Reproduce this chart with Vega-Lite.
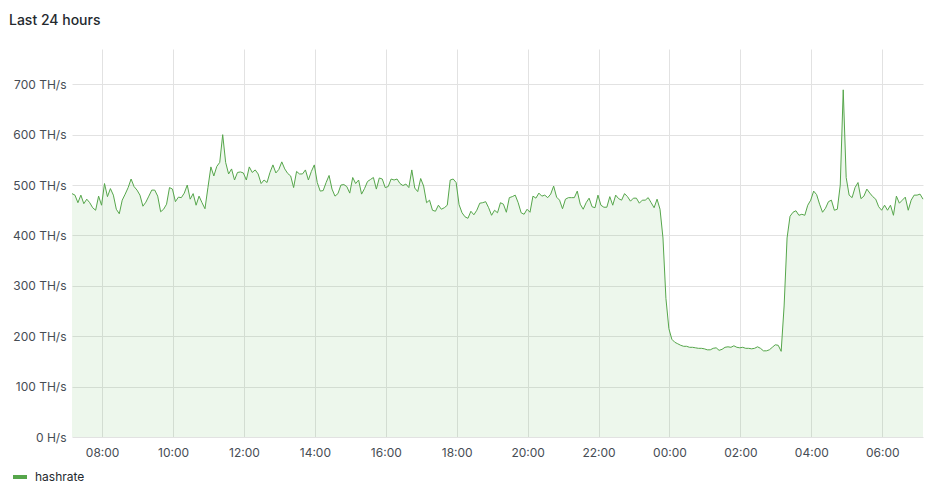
{
  "$schema": "https://vega.github.io/schema/vega-lite/v6.json",
  "width": 851,
  "height": 388,
  "autosize": {"type": "none"},
  "padding": {"left": 72, "top": 49, "right": 17, "bottom": 63},
  "background": "#ffffff",
  "title": {
    "text": "Last 24 hours",
    "anchor": "start",
    "frame": "group",
    "font": "Inter",
    "fontSize": 14,
    "fontWeight": 500,
    "color": "#24292e",
    "baseline": "alphabetic",
    "offset": 27,
    "dx": -63,
    "dy": 17
  },
  "config": {
    "view": {"stroke": null},
    "font": "Inter",
    "axis": {
      "labelFont": "Inter",
      "labelFontSize": 12,
      "labelColor": "#464c54",
      "gridColor": "#e2e2e2",
      "gridWidth": 1,
      "domain": false,
      "ticks": false,
      "title": null
    }
  },
  "data": {
    "values": [
      {"t":"2024-01-01T07:09","v":483},{"t":"2024-01-01T07:14","v":480},{"t":"2024-01-01T07:19","v":465},{"t":"2024-01-01T07:24","v":480},{"t":"2024-01-01T07:29","v":463},{"t":"2024-01-01T07:34","v":472},{"t":"2024-01-01T07:39","v":465},{"t":"2024-01-01T07:44","v":455},{"t":"2024-01-01T07:49","v":450},{"t":"2024-01-01T07:54","v":478},{"t":"2024-01-01T07:59","v":460},
      {"t":"2024-01-01T08:04","v":503},{"t":"2024-01-01T08:09","v":477},{"t":"2024-01-01T08:14","v":493},{"t":"2024-01-01T08:19","v":480},{"t":"2024-01-01T08:24","v":452},{"t":"2024-01-01T08:29","v":443},{"t":"2024-01-01T08:34","v":470},{"t":"2024-01-01T08:39","v":482},{"t":"2024-01-01T08:44","v":495},{"t":"2024-01-01T08:49","v":512},{"t":"2024-01-01T08:54","v":497},{"t":"2024-01-01T08:59","v":490},
      {"t":"2024-01-01T09:04","v":480},{"t":"2024-01-01T09:09","v":458},{"t":"2024-01-01T09:14","v":466},{"t":"2024-01-01T09:19","v":478},{"t":"2024-01-01T09:24","v":490},{"t":"2024-01-01T09:29","v":490},{"t":"2024-01-01T09:34","v":478},{"t":"2024-01-01T09:39","v":447},{"t":"2024-01-01T09:44","v":452},{"t":"2024-01-01T09:49","v":462},{"t":"2024-01-01T09:54","v":495},{"t":"2024-01-01T09:59","v":492},
      {"t":"2024-01-01T10:04","v":467},{"t":"2024-01-01T10:09","v":476},{"t":"2024-01-01T10:14","v":475},{"t":"2024-01-01T10:19","v":484},{"t":"2024-01-01T10:24","v":500},{"t":"2024-01-01T10:29","v":472},{"t":"2024-01-01T10:34","v":483},{"t":"2024-01-01T10:39","v":460},{"t":"2024-01-01T10:44","v":478},{"t":"2024-01-01T10:49","v":465},{"t":"2024-01-01T10:54","v":453},{"t":"2024-01-01T10:59","v":495},
      {"t":"2024-01-01T11:04","v":536},{"t":"2024-01-01T11:09","v":518},{"t":"2024-01-01T11:14","v":537},{"t":"2024-01-01T11:19","v":545},{"t":"2024-01-01T11:24","v":600},{"t":"2024-01-01T11:29","v":545},{"t":"2024-01-01T11:34","v":522},{"t":"2024-01-01T11:39","v":532},{"t":"2024-01-01T11:44","v":510},{"t":"2024-01-01T11:49","v":525},{"t":"2024-01-01T11:54","v":526},{"t":"2024-01-01T11:59","v":524},
      {"t":"2024-01-01T12:04","v":510},{"t":"2024-01-01T12:09","v":536},{"t":"2024-01-01T12:14","v":525},{"t":"2024-01-01T12:19","v":530},{"t":"2024-01-01T12:24","v":522},{"t":"2024-01-01T12:29","v":503},{"t":"2024-01-01T12:34","v":510},{"t":"2024-01-01T12:39","v":505},{"t":"2024-01-01T12:44","v":525},{"t":"2024-01-01T12:49","v":540},{"t":"2024-01-01T12:54","v":524},{"t":"2024-01-01T12:59","v":531},
      {"t":"2024-01-01T13:04","v":546},{"t":"2024-01-01T13:09","v":532},{"t":"2024-01-01T13:14","v":523},{"t":"2024-01-01T13:19","v":518},{"t":"2024-01-01T13:24","v":495},{"t":"2024-01-01T13:29","v":527},{"t":"2024-01-01T13:34","v":522},{"t":"2024-01-01T13:39","v":522},{"t":"2024-01-01T13:44","v":530},{"t":"2024-01-01T13:49","v":510},{"t":"2024-01-01T13:54","v":527},{"t":"2024-01-01T13:59","v":540},
      {"t":"2024-01-01T14:04","v":505},{"t":"2024-01-01T14:09","v":488},{"t":"2024-01-01T14:14","v":489},{"t":"2024-01-01T14:19","v":505},{"t":"2024-01-01T14:24","v":519},{"t":"2024-01-01T14:29","v":492},{"t":"2024-01-01T14:34","v":478},{"t":"2024-01-01T14:39","v":483},{"t":"2024-01-01T14:44","v":500},{"t":"2024-01-01T14:49","v":501},{"t":"2024-01-01T14:54","v":497},{"t":"2024-01-01T14:59","v":484},
      {"t":"2024-01-01T15:04","v":515},{"t":"2024-01-01T15:09","v":503},{"t":"2024-01-01T15:14","v":510},{"t":"2024-01-01T15:19","v":482},{"t":"2024-01-01T15:24","v":493},{"t":"2024-01-01T15:29","v":507},{"t":"2024-01-01T15:34","v":511},{"t":"2024-01-01T15:39","v":515},{"t":"2024-01-01T15:44","v":492},{"t":"2024-01-01T15:49","v":514},{"t":"2024-01-01T15:54","v":512},{"t":"2024-01-01T15:59","v":495},
      {"t":"2024-01-01T16:04","v":497},{"t":"2024-01-01T16:09","v":512},{"t":"2024-01-01T16:14","v":510},{"t":"2024-01-01T16:19","v":512},{"t":"2024-01-01T16:24","v":503},{"t":"2024-01-01T16:29","v":499},{"t":"2024-01-01T16:34","v":502},{"t":"2024-01-01T16:39","v":495},{"t":"2024-01-01T16:44","v":530},{"t":"2024-01-01T16:49","v":494},{"t":"2024-01-01T16:54","v":487},{"t":"2024-01-01T16:59","v":513},
      {"t":"2024-01-01T17:04","v":498},{"t":"2024-01-01T17:09","v":465},{"t":"2024-01-01T17:14","v":470},{"t":"2024-01-01T17:19","v":450},{"t":"2024-01-01T17:24","v":448},{"t":"2024-01-01T17:29","v":460},{"t":"2024-01-01T17:34","v":452},{"t":"2024-01-01T17:39","v":455},{"t":"2024-01-01T17:44","v":460},{"t":"2024-01-01T17:49","v":510},{"t":"2024-01-01T17:54","v":512},{"t":"2024-01-01T17:59","v":505},
      {"t":"2024-01-01T18:04","v":461},{"t":"2024-01-01T18:09","v":445},{"t":"2024-01-01T18:14","v":437},{"t":"2024-01-01T18:19","v":434},{"t":"2024-01-01T18:24","v":448},{"t":"2024-01-01T18:29","v":441},{"t":"2024-01-01T18:34","v":450},{"t":"2024-01-01T18:39","v":464},{"t":"2024-01-01T18:44","v":465},{"t":"2024-01-01T18:49","v":467},{"t":"2024-01-01T18:54","v":455},{"t":"2024-01-01T18:59","v":440},
      {"t":"2024-01-01T19:04","v":450},{"t":"2024-01-01T19:09","v":445},{"t":"2024-01-01T19:14","v":465},{"t":"2024-01-01T19:19","v":462},{"t":"2024-01-01T19:24","v":446},{"t":"2024-01-01T19:29","v":475},{"t":"2024-01-01T19:34","v":477},{"t":"2024-01-01T19:39","v":480},{"t":"2024-01-01T19:44","v":465},{"t":"2024-01-01T19:49","v":445},{"t":"2024-01-01T19:54","v":442},{"t":"2024-01-01T19:59","v":452},
      {"t":"2024-01-01T20:04","v":446},{"t":"2024-01-01T20:09","v":478},{"t":"2024-01-01T20:14","v":474},{"t":"2024-01-01T20:19","v":484},{"t":"2024-01-01T20:24","v":478},{"t":"2024-01-01T20:29","v":480},{"t":"2024-01-01T20:34","v":475},{"t":"2024-01-01T20:39","v":482},{"t":"2024-01-01T20:44","v":498},{"t":"2024-01-01T20:49","v":476},{"t":"2024-01-01T20:54","v":470},{"t":"2024-01-01T20:59","v":453},
      {"t":"2024-01-01T21:04","v":472},{"t":"2024-01-01T21:09","v":475},{"t":"2024-01-01T21:14","v":475},{"t":"2024-01-01T21:19","v":475},{"t":"2024-01-01T21:24","v":488},{"t":"2024-01-01T21:29","v":462},{"t":"2024-01-01T21:34","v":452},{"t":"2024-01-01T21:39","v":465},{"t":"2024-01-01T21:44","v":474},{"t":"2024-01-01T21:49","v":457},{"t":"2024-01-01T21:54","v":455},{"t":"2024-01-01T21:59","v":480},
      {"t":"2024-01-01T22:04","v":460},{"t":"2024-01-01T22:09","v":456},{"t":"2024-01-01T22:14","v":456},{"t":"2024-01-01T22:19","v":477},{"t":"2024-01-01T22:24","v":460},{"t":"2024-01-01T22:29","v":480},{"t":"2024-01-01T22:34","v":473},{"t":"2024-01-01T22:39","v":470},{"t":"2024-01-01T22:44","v":483},{"t":"2024-01-01T22:49","v":477},{"t":"2024-01-01T22:54","v":468},{"t":"2024-01-01T22:59","v":474},
      {"t":"2024-01-01T23:04","v":474},{"t":"2024-01-01T23:09","v":464},{"t":"2024-01-01T23:14","v":470},{"t":"2024-01-01T23:19","v":470},{"t":"2024-01-01T23:24","v":475},{"t":"2024-01-01T23:29","v":465},{"t":"2024-01-01T23:34","v":455},{"t":"2024-01-01T23:39","v":472},{"t":"2024-01-01T23:44","v":452},{"t":"2024-01-01T23:49","v":395},{"t":"2024-01-01T23:54","v":275},{"t":"2024-01-01T23:59","v":215},
      {"t":"2024-01-02T00:04","v":194},{"t":"2024-01-02T00:09","v":188},{"t":"2024-01-02T00:14","v":185},{"t":"2024-01-02T00:19","v":182},{"t":"2024-01-02T00:24","v":180},{"t":"2024-01-02T00:29","v":180},{"t":"2024-01-02T00:34","v":178},{"t":"2024-01-02T00:39","v":178},{"t":"2024-01-02T00:44","v":177},{"t":"2024-01-02T00:49","v":176},{"t":"2024-01-02T00:54","v":176},{"t":"2024-01-02T00:59","v":175},
      {"t":"2024-01-02T01:04","v":173},{"t":"2024-01-02T01:09","v":173},{"t":"2024-01-02T01:14","v":176},{"t":"2024-01-02T01:19","v":177},{"t":"2024-01-02T01:24","v":172},{"t":"2024-01-02T01:29","v":174},{"t":"2024-01-02T01:34","v":178},{"t":"2024-01-02T01:39","v":179},{"t":"2024-01-02T01:44","v":178},{"t":"2024-01-02T01:49","v":181},{"t":"2024-01-02T01:54","v":178},{"t":"2024-01-02T01:59","v":177},
      {"t":"2024-01-02T02:04","v":178},{"t":"2024-01-02T02:09","v":176},{"t":"2024-01-02T02:14","v":176},{"t":"2024-01-02T02:19","v":175},{"t":"2024-01-02T02:24","v":176},{"t":"2024-01-02T02:29","v":179},{"t":"2024-01-02T02:34","v":176},{"t":"2024-01-02T02:39","v":171},{"t":"2024-01-02T02:44","v":171},{"t":"2024-01-02T02:49","v":173},{"t":"2024-01-02T02:54","v":178},{"t":"2024-01-02T02:59","v":183},
      {"t":"2024-01-02T03:04","v":182},{"t":"2024-01-02T03:09","v":170},{"t":"2024-01-02T03:14","v":260},{"t":"2024-01-02T03:19","v":395},{"t":"2024-01-02T03:24","v":438},{"t":"2024-01-02T03:29","v":446},{"t":"2024-01-02T03:34","v":449},{"t":"2024-01-02T03:39","v":440},{"t":"2024-01-02T03:44","v":442},{"t":"2024-01-02T03:49","v":440},{"t":"2024-01-02T03:54","v":460},{"t":"2024-01-02T03:59","v":470},
      {"t":"2024-01-02T04:04","v":488},{"t":"2024-01-02T04:09","v":481},{"t":"2024-01-02T04:14","v":462},{"t":"2024-01-02T04:19","v":446},{"t":"2024-01-02T04:24","v":454},{"t":"2024-01-02T04:29","v":467},{"t":"2024-01-02T04:34","v":470},{"t":"2024-01-02T04:39","v":450},{"t":"2024-01-02T04:44","v":452},{"t":"2024-01-02T04:49","v":500},{"t":"2024-01-02T04:54","v":689},{"t":"2024-01-02T04:59","v":515},
      {"t":"2024-01-02T05:04","v":480},{"t":"2024-01-02T05:09","v":475},{"t":"2024-01-02T05:14","v":495},{"t":"2024-01-02T05:19","v":505},{"t":"2024-01-02T05:24","v":473},{"t":"2024-01-02T05:29","v":478},{"t":"2024-01-02T05:34","v":492},{"t":"2024-01-02T05:39","v":484},{"t":"2024-01-02T05:44","v":477},{"t":"2024-01-02T05:49","v":472},{"t":"2024-01-02T05:54","v":457},{"t":"2024-01-02T05:59","v":450},
      {"t":"2024-01-02T06:04","v":460},{"t":"2024-01-02T06:09","v":450},{"t":"2024-01-02T06:14","v":460},{"t":"2024-01-02T06:19","v":440},{"t":"2024-01-02T06:24","v":478},{"t":"2024-01-02T06:29","v":464},{"t":"2024-01-02T06:34","v":470},{"t":"2024-01-02T06:39","v":476},{"t":"2024-01-02T06:44","v":450},{"t":"2024-01-02T06:49","v":470},{"t":"2024-01-02T06:54","v":480},{"t":"2024-01-02T06:59","v":480},
      {"t":"2024-01-02T07:04","v":482},{"t":"2024-01-02T07:09","v":472}
    ]
  },
  "encoding": {
    "x": {
      "field": "t",
      "type": "temporal",
      "scale": {"domain": [
        {"year": 2024, "month": 1, "date": 1, "hours": 7, "minutes": 9},
        {"year": 2024, "month": 1, "date": 2, "hours": 7, "minutes": 9}
      ]},
      "axis": {
        "format": "%H:%M",
        "values": [
          {"year": 2024, "month": 1, "date": 1, "hours": 8},
          {"year": 2024, "month": 1, "date": 1, "hours": 10},
          {"year": 2024, "month": 1, "date": 1, "hours": 12},
          {"year": 2024, "month": 1, "date": 1, "hours": 14},
          {"year": 2024, "month": 1, "date": 1, "hours": 16},
          {"year": 2024, "month": 1, "date": 1, "hours": 18},
          {"year": 2024, "month": 1, "date": 1, "hours": 20},
          {"year": 2024, "month": 1, "date": 1, "hours": 22},
          {"year": 2024, "month": 1, "date": 2, "hours": 0},
          {"year": 2024, "month": 1, "date": 2, "hours": 2},
          {"year": 2024, "month": 1, "date": 2, "hours": 4},
          {"year": 2024, "month": 1, "date": 2, "hours": 6}
        ],
        "labelFlush": false,
        "labelPadding": 10,
        "grid": true
      }
    },
    "y": {
      "field": "v",
      "type": "quantitative",
      "scale": {"domain": [0, 770], "nice": false},
      "axis": {
        "values": [0, 100, 200, 300, 400, 500, 600, 700],
        "labelExpr": "datum.value == 0 ? '0 H/s' : datum.value + ' TH/s'",
        "labelPadding": 6,
        "grid": true
      }
    }
  },
  "layer": [
    {
      "mark": {"type": "area", "color": "#73bf69", "opacity": 0.13}
    },
    {
      "mark": {"type": "line", "strokeWidth": 1},
      "encoding": {
        "color": {
          "datum": "hashrate",
          "scale": {"range": ["#56a64b"]},
          "legend": {
            "title": null,
            "orient": "none",
            "legendX": -61,
            "legendY": 419,
            "symbolType": "stroke",
            "symbolStrokeWidth": 4,
            "symbolSize": 196,
            "labelOffset": 6,
            "labelFont": "Inter",
            "labelFontSize": 12,
            "labelColor": "#24292e"
          }
        }
      }
    }
  ]
}
